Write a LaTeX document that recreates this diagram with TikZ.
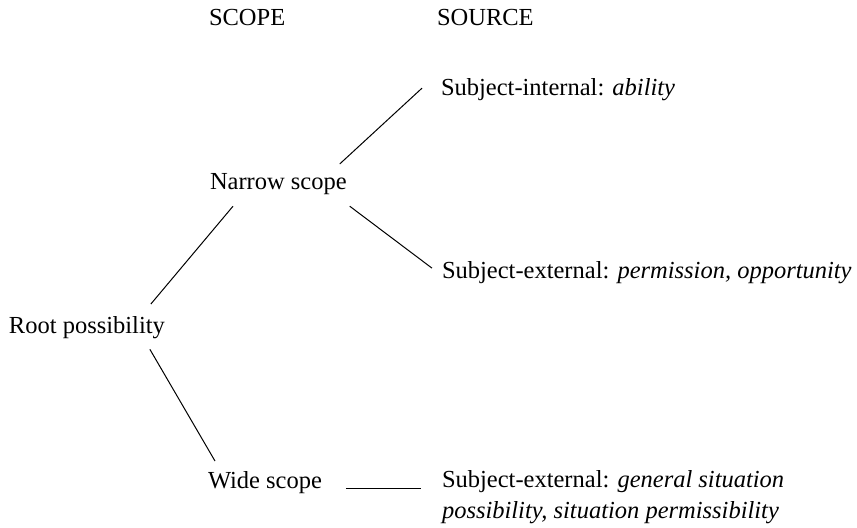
\documentclass[tikz,border=0pt]{standalone}
\usepackage{fontspec}
\setmainfont{Liberation Serif}
\usepackage{tikz}
\usetikzlibrary{positioning}

\begin{document}
\begin{tikzpicture}[x=0.5pt, y=-0.5pt]%
  \tikzset{conn/.style={draw, line width=0.5pt, black}}
  \tikzstyle{every node}=[draw=none, text=black, inner sep=0pt, outer sep=0pt, anchor=base west, font=\fontsize{12.25pt}{15.5pt}\selectfont]

  \useasboundingbox (0,0) rectangle (857,527);

  \node (scope) at (209,25) {SCOPE};
  \node (source) at (437,25) {SOURCE};

  \node (root) at (9,333) {Root possibility};
  \node (narrow) at (210,189) {Narrow scope};
  \node (wide) at (208,488) {Wide scope};

  \node (internal) at (441,95) {Subject-internal: \textit{ability}};
  \node (permext) at (442,278) {Subject-external: \textit{permission, opportunity}};
  % base of a two-line node is its last line
  \node[align=left] (genext) at (442,518) {Subject-external: \textit{general situation}\\\textit{possibility, situation permissibility}};

  \path[conn] ([shift={(-14,-12)}]root.north east) -- ([shift={(23,12)}]narrow.south west);
  \path[conn] ([shift={(-15,11)}]root.south east) -- ([shift={(7,-10)}]wide.north west);
  \path[conn] ([shift={(-7,-9)}]narrow.north east) -- ([shift={(-19,-1)}]internal.west);
  \path[conn] ([shift={(3,12)}]narrow.south east) -- ([shift={(-10,-4)}]permext.west);
  \path[conn] ([shift={(24,0)}]wide.base east) -- ([shift={(-21,0)}]wide.base east -| genext.west);
\end{tikzpicture}
\end{document}
